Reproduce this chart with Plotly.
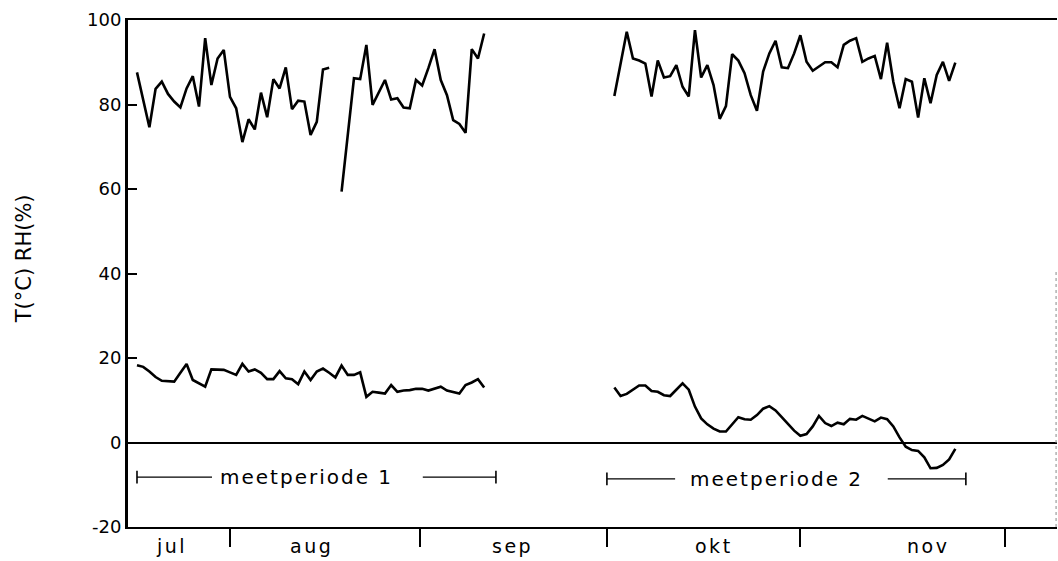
import plotly.graph_objects as go

# ---- data (x = day number, day 0 = first measuring day, mid July) ----
rh_p1_days = [0, 2, 3, 4, 5, 6, 7, 8, 9, 10, 11, 12, 13, 14, 15, 16, 17, 18, 19, 20,
              21, 22, 23, 24, 25, 26, 27, 28, 29, 30, 31]
rh_p1_vals = [87.6, 74.6, 83.7, 85.4, 82.5, 80.7, 79.3, 83.8, 86.7, 79.5, 95.7, 84.6,
              90.9, 92.9, 81.8, 79.1, 71.1, 76.5, 74.1, 82.8, 77.0, 86.0, 83.8, 88.8,
              78.9, 80.9, 80.7, 72.8, 75.9, 88.3, 88.7]
rh_p1b_days = [33, 35, 36, 37, 38, 39, 40, 41, 42, 43, 44, 45, 46, 47, 48, 49, 50, 51,
               52, 53, 54, 55, 56]
rh_p1b_vals = [59.4, 86.2, 86.0, 94.1, 79.9, 83.0, 85.8, 81.2, 81.5, 79.3, 79.1, 85.8,
               84.5, 88.6, 93.1, 85.8, 82.2, 76.3, 75.4, 73.3, 93.1, 90.9, 96.8]
rh_p2_days = [77] + list(range(79, 133))
rh_p2_vals = [82.0, 97.2, 90.9, 90.4, 89.7, 81.9, 90.4, 86.4, 86.7, 89.3, 84.2, 81.9,
              97.6, 86.4, 89.3, 84.6, 76.6, 79.6, 91.9, 90.4, 87.4, 82.2, 78.5, 87.8,
              92.1, 95.1, 88.8, 88.6, 92.1, 96.4, 90.1, 88.0, 89.0, 90.0, 90.0, 88.8,
              94.1, 95.1, 95.7, 90.1, 90.9, 91.5, 86.0, 94.6, 85.4, 79.1, 86.0, 85.4,
              76.9, 86.2, 80.3, 87.0, 90.1, 85.6, 89.9]

t_p1_days = list(range(0, 57))
t_p1_vals = [18.3, 17.9, 16.8, 15.5, 14.6, 14.5, 14.4, 16.5, 18.6, 14.8, 14.0, 13.2,
             17.3, 17.3, 17.2, 16.6, 16.0, 18.6, 16.8, 17.3, 16.5, 15.0, 15.0, 16.9,
             15.2, 15.0, 13.8, 16.8, 14.8, 16.8, 17.5, 16.5, 15.4, 18.2, 16.0, 16.0,
             16.6, 10.8, 12.0, 11.8, 11.6, 13.6, 12.0, 12.3, 12.4, 12.7, 12.7, 12.3,
             12.8, 13.2, 12.3, 12.0, 11.6, 13.6, 14.2, 15.0, 13.0]
t_p2_days = list(range(77, 133))
t_p2_vals = [13.0, 11.0, 11.5, 12.5, 13.5, 13.5, 12.2, 12.0, 11.2, 11.0, 12.5, 14.0,
             12.5, 8.5, 5.7, 4.3, 3.3, 2.6, 2.6, 4.2, 6.0, 5.5, 5.4, 6.5, 8.0, 8.6,
             7.6, 6.0, 4.3, 2.8, 1.6, 2.0, 3.8, 6.3, 4.6, 3.9, 4.7, 4.3, 5.6, 5.4,
             6.3, 5.6, 5.0, 5.9, 5.5, 3.8, 1.2, -1.0, -1.8, -2.0, -3.5, -6.1, -6.0,
             -5.3, -4.0, -1.5]

month_bounds = [15.0, 45.6, 75.8, 106.9, 140.0]
month_names = ["jul", "aug", "sep", "okt", "nov"]
month_label_pos = [5.5, 28.2, 60.6, 93.0, 127.6]

y_ticks = [-20, 0, 20, 40, 60, 80, 100]
y_tick_text = ["-20", "0", "20", "40", "60", "80", "100"]

period_names = ["meetperiode 1", "meetperiode 2"]
period_bounds = [[0.0, 57.9], [75.8, 133.7]]
period_gaps = [[12.1, 46.1], [86.8, 121.1]]
period_text_pos = [27.4, 103.1]
period_level = [-8.2, -8.6]

# ---- figure ----
fig = go.Figure()
line_style = dict(color="black", width=2.6)


def join(a_days, a_vals, b_days, b_vals):
    return a_days + [None] + b_days, a_vals + [None] + b_vals


def spaced(text, px):
    return '<span style="letter-spacing:%spx">%s</span>' % (px, text)


rx, ry = join(rh_p1_days, rh_p1_vals, rh_p1b_days, rh_p1b_vals)
rx, ry = join(rx, ry, rh_p2_days, rh_p2_vals)
fig.add_trace(go.Scatter(x=rx, y=ry, mode="lines", line=line_style, connectgaps=False,
                         hoverinfo="skip"))
tx, ty = join(t_p1_days, t_p1_vals, t_p2_days, t_p2_vals)
fig.add_trace(go.Scatter(x=tx, y=ty, mode="lines", line=line_style, connectgaps=False,
                         hoverinfo="skip"))

# measuring period brackets
for name, (s, e), (g0, g1), tp, lvl in zip(period_names, period_bounds, period_gaps,
                                          period_text_pos, period_level):
    fig.add_trace(go.Scatter(x=[s, g0, None, g1, e], y=[lvl, lvl, None, lvl, lvl],
                             mode="lines", line=dict(color="black", width=1.4),
                             hoverinfo="skip"))
    fig.add_trace(go.Scatter(x=[s, s, None, e, e],
                             y=[lvl - 1.5, lvl + 1.5, None, lvl - 1.5, lvl + 1.5],
                             mode="lines", line=dict(color="black", width=1.6),
                             hoverinfo="skip"))
    fig.add_annotation(x=tp, y=lvl, xref="x", yref="y", text=spaced(name, 2),
                       showarrow=False, font=dict(size=20, color="black"),
                       xanchor="center", yanchor="middle")

for pos, name in zip(month_label_pos, month_names):
    fig.add_annotation(x=pos, y=-0.038, xref="x", yref="paper", text=spaced(name, 2.5),
                       showarrow=False, font=dict(size=19, color="black"),
                       xanchor="center", yanchor="middle")

fig.add_annotation(x=-0.112, y=0.53, xref="paper", yref="paper", text="T(°C) RH(%)",
                   textangle=-90, showarrow=False, font=dict(size=21, color="black"),
                   xanchor="center", yanchor="middle")

# faint right border as in the scan
fig.add_shape(type="line", xref="paper", yref="y", x0=0.999, x1=0.999, y0=-20, y1=41,
              line=dict(color="#888888", width=1, dash="dot"))

fig.update_layout(
    width=1058, height=561,
    margin=dict(l=128, r=1, t=20, b=34),
    plot_bgcolor="white", paper_bgcolor="white",
    showlegend=False,
    font=dict(family="DejaVu Sans", color="black", size=18),
)
fig.update_xaxes(range=[-1.45, 148.4], showgrid=False, zeroline=False,
                 showline=True, linecolor="black", linewidth=2, mirror=True,
                 ticks="outside", tickvals=month_bounds, ticktext=[""] * 5,
                 ticklen=18, tickwidth=2, tickcolor="black")
fig.update_yaxes(range=[-20, 100], showgrid=False, zeroline=True,
                 zerolinecolor="black", zerolinewidth=1.5,
                 showline=True, linecolor="black", linewidth=3,
                 ticks="inside", tickvals=y_ticks, ticktext=y_tick_text,
                 ticklen=9, tickwidth=1.5,
                 tickcolor="black", tickfont=dict(size=18))

fig.write_html("out.html")
